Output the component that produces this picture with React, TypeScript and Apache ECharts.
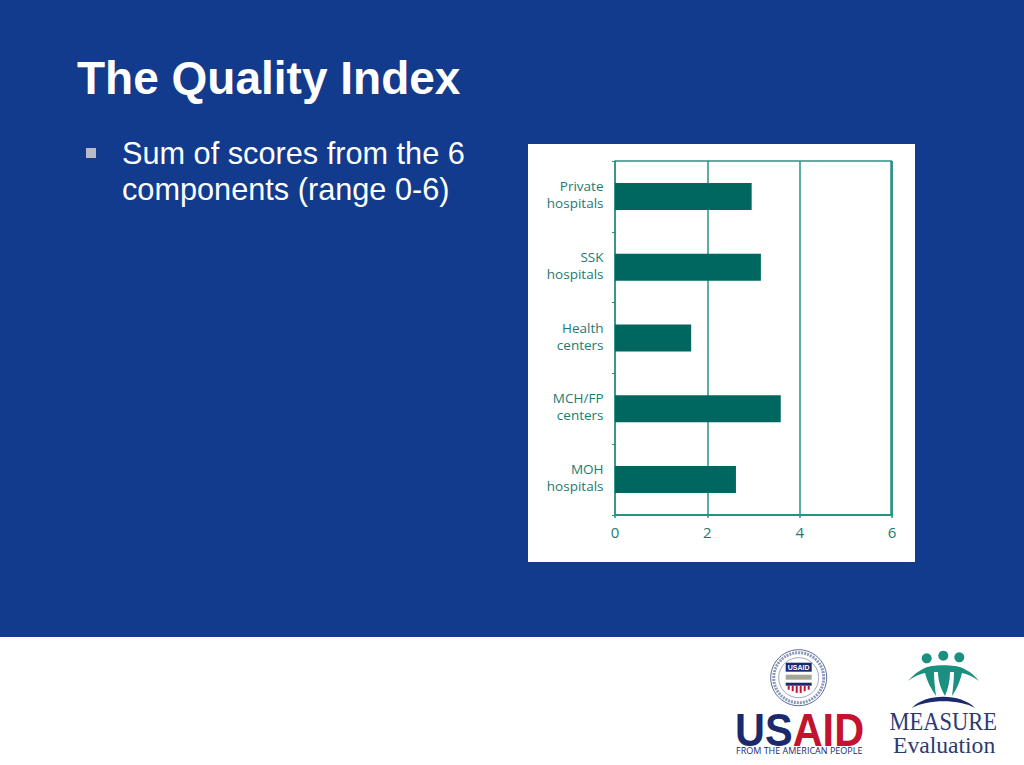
import React, { useEffect, useRef } from "react";
import * as echarts from "echarts";

const categories = ["Private\nhospitals", "SSK\nhospitals", "Health\ncenters", "MCH/FP\ncenters", "MOH\nhospitals"];
const scores = [2.96, 3.16, 1.65, 3.59, 2.62];
const xTicks = [0, 2, 4, 6];
const titleText = "The Quality Index";
const bulletLines = ["Sum of scores from the 6", "components (range 0-6)"];

const BLUE = "#123b8d";
const LINE = "#2b8f86";
const BAR = "#006660";
const LABEL = "#1d7a72";
const TEAL = "#1b9080";
const NAVY = "#1b2a6b";
const RED = "#c4122f";

echarts.graphic.registerShape("people", echarts.graphic.extendPath(
  "M908 681 C917 671 925 667 932 666 C938 665 948 665 955 666 C962 667 971 671 979 681 C972 676 967 674 962 673 C960 681 957 689 952 696 C953 688 954 680 954 672 L950 672 C950 681 948 689 945 696 C941 689 938 681 938 672 L934 672 C934 680 935 688 936 696 C931 689 927 681 925 673 C920 674 915 676 908 681 Z", {}));
echarts.graphic.registerShape("arch", echarts.graphic.extendPath(
  "M912 708 C925 693 961 693 975 708 C960 699 927 699 912 708 Z", {}));

function seal() {
  const cx = 798.7, cy = 677.7;
  const stripes = [0, 1, 2, 3, 4, 5].map((i) => ({
    type: "rect", shape: { x: cx - 11 + i * 4, y: cy + 8, width: 2, height: 8 - Math.abs(i - 2.5) * 1.6 },
    style: { fill: RED },
  }));
  return [
    { type: "circle", shape: { cx, cy, r: 28 }, style: { fill: "#fff", stroke: "#5a6c9c", lineWidth: 1 } },
    { type: "circle", shape: { cx, cy, r: 25 }, style: { fill: "none", stroke: "#8b97bb", lineWidth: 3, lineDash: [2, 1] } },
    { type: "circle", shape: { cx, cy, r: 20 }, style: { fill: "#fff", stroke: "#5a6c9c", lineWidth: 0.6 } },
    { type: "rect", shape: { x: cx - 13, y: cy - 15, width: 26, height: 9 }, style: { fill: NAVY } },
    { type: "text", x: cx, y: cy - 10.5, style: { text: "USAID", fill: "#fff", font: 'bold 7px "Liberation Sans"', align: "center", verticalAlign: "middle" } },
    { type: "rect", shape: { x: cx - 13, y: cy - 3, width: 26, height: 5 }, style: { fill: "#a9a595" } },
    { type: "rect", shape: { x: cx - 13, y: cy + 5, width: 26, height: 3 }, style: { fill: NAVY } },
    ...stripes,
  ];
}

export default function App() {
  const ref = useRef<HTMLDivElement>(null);
  useEffect(() => {
    const chart = echarts.init(ref.current!, undefined, { renderer: "svg" });
    chart.setOption({
      animation: false,
      backgroundColor: BLUE,
      grid: { left: 615, top: 161, width: 277, height: 354, z: 3 },
      xAxis: {
        type: "value", min: 0, max: 6, interval: 2, position: "bottom",
        axisLine: { show: true, lineStyle: { color: LINE, width: 2 } },
        axisTick: { show: true, length: 3, lineStyle: { color: LINE, width: 1.5 } },
        axisLabel: {
          color: LABEL, fontFamily: "Open Sans", fontSize: 15, margin: 9,
          formatter: (v: number) => (xTicks.includes(v) ? String(v) : ""),
        },
        splitLine: { show: true, lineStyle: { color: LINE, width: 1.5 } },
      },
      yAxis: {
        type: "category", data: categories, inverse: true,
        axisLine: { show: true, onZero: false, lineStyle: { color: LINE, width: 1.5 } },
        axisTick: { show: true, length: 3, alignWithLabel: false, lineStyle: { color: LINE, width: 1 } },
        axisLabel: {
          margin: 11.5, align: "right",
          formatter: (v: string) => v.split("\n").map((l) => `{a|${l}}`).join("\n") + "\n{s| }",
          rich: {
            a: { color: LABEL, fontFamily: "Open Sans", fontSize: 13.5, lineHeight: 17, align: "right" },
            s: { fontSize: 4, lineHeight: 4 },
          },
        },
        splitLine: { show: false },
      },
      series: [{
        type: "bar", data: scores, barWidth: 27, z: 4,
        itemStyle: { color: BAR },
      }],
      graphic: [
        { type: "rect", z: -10, shape: { x: 528, y: 144, width: 387, height: 418 }, style: { fill: "#fff" } },
        { type: "rect", z: -10, shape: { x: 0, y: 637, width: 1024, height: 128 }, style: { fill: "#fff" } },
        { type: "line", z: 10, shape: { x1: 615, y1: 161, x2: 892, y2: 161 }, style: { stroke: LINE, lineWidth: 1.5 } },
        { type: "line", z: 10, shape: { x1: 891.5, y1: 161, x2: 891.5, y2: 515 }, style: { stroke: LINE, lineWidth: 2.5 } },
        { type: "text", x: 77, y: 78, style: { text: titleText, fill: "#fff", font: 'bold 46px "Liberation Sans"', verticalAlign: "middle" } },
        { type: "rect", shape: { x: 86, y: 148, width: 10, height: 10 }, style: { fill: "#b9bcc6" } },
        { type: "text", x: 122, y: 153.5, style: { text: bulletLines[0], fill: "#fff", font: '30.7px "Liberation Sans"', verticalAlign: "middle" } },
        { type: "text", x: 122, y: 189.5, style: { text: bulletLines[1], fill: "#fff", font: '30.7px "Liberation Sans"', verticalAlign: "middle" } },
        ...seal(),
        {
          type: "text", x: 735, y: 730, scaleY: 1.12, style: {
            text: "{a|US}{b|AID}",
            verticalAlign: "middle",
            rich: {
              a: { fill: NAVY, font: 'bold 41.5px "Liberation Sans"' },
              b: { fill: RED, font: 'bold 41.5px "Liberation Sans"' },
            },
          },
        },
        { type: "text", x: 736, y: 750.5, style: { text: "FROM THE AMERICAN PEOPLE", fill: NAVY, font: '9px "Open Sans"', verticalAlign: "middle" } },
        { type: "circle", shape: { cx: 926.7, cy: 658.3, r: 5 }, style: { fill: TEAL } },
        { type: "circle", shape: { cx: 943.3, cy: 655.7, r: 5 }, style: { fill: TEAL } },
        { type: "circle", shape: { cx: 959.3, cy: 657.3, r: 5 }, style: { fill: TEAL } },
        { type: "people", x: 0, y: 0, style: { fill: TEAL } },
        { type: "arch", x: 0, y: 0, style: { fill: NAVY } },
        { type: "text", x: 889.5, y: 722, scaleY: 1.12, style: { text: "MEASURE", fill: "#2c3a73", font: '22.5px "Liberation Serif"', verticalAlign: "middle" } },
        { type: "text", x: 893, y: 745, style: { text: "Evaluation", fill: "#2c3a73", font: '23.6px "Liberation Serif"', verticalAlign: "middle" } },
      ],
    });
    return () => chart.dispose();
  }, []);
  return <div ref={ref} style={{ position: "fixed", left: 0, top: 0, width: 1024, height: 765 }} />;
}
